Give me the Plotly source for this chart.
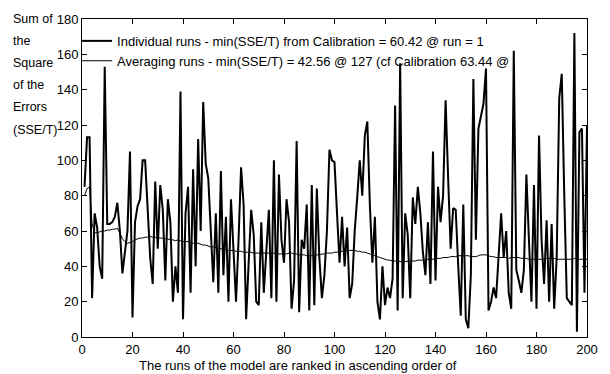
import plotly.graph_objects as go

runs = list(range(1, 201))

individual = [
    85, 113, 113, 22, 70, 62, 40, 33, 153, 64,
    64, 65, 68, 76, 60, 36, 48, 60, 105, 11,
    65, 74, 78, 100, 100, 75, 45, 30, 88, 50,
    86, 72, 32, 78, 65, 20, 40, 25, 139, 10,
    70, 85, 25, 95, 40, 112, 60, 133, 98, 90,
    60, 31, 70, 25, 94, 35, 68, 20, 78, 45,
    20, 55, 96, 75, 10, 42, 72, 58, 20, 18,
    65, 25, 52, 72, 22, 100, 20, 92, 55, 42,
    78, 65, 16, 32, 111, 14, 55, 50, 75, 15,
    86, 18, 84, 45, 22, 35, 60, 106, 100, 99,
    70, 42, 68, 40, 62, 22, 30, 60, 79, 100,
    80, 114, 122, 75, 42, 68, 20, 10, 40, 18,
    28, 22, 33, 131, 15, 155, 22, 70, 58, 22,
    79, 64, 85, 70, 48, 35, 65, 30, 105, 32,
    85, 65, 80, 134, 90, 50, 73, 72, 40, 12,
    75, 10, 5, 35, 146, 55, 118, 125, 132, 152,
    15, 20, 28, 22, 45, 70, 45, 60, 25, 16,
    162, 38, 32, 25, 38, 92, 55, 20, 86, 16,
    114, 55, 30, 66, 20, 64, 16, 45, 135, 149,
    80, 22, 20, 18, 172, 3, 116, 118, 25, 120,
]

averaging = [
    80, 84, 85, 64, 59, 59, 59.5, 60, 60, 60.5,
    60.5, 61, 61, 61.5, 59, 55.5, 54, 53, 53.5, 54,
    55, 55.5, 56, 56, 56.5, 56.5, 57, 56.5, 56.5, 56,
    56, 56, 55.5, 55.5, 55, 55, 54.5, 55, 54.5, 54,
    54, 54, 53.5, 53, 53.5, 53, 52.5, 52, 52, 51.5,
    51, 51, 50.5, 50, 50, 49.5, 49.5, 49, 49, 49,
    48.5, 48.5, 48.5, 48, 48, 48, 48, 47.5, 47.5, 47.5,
    47.5, 47.5, 47.5, 47.5, 47.5, 47.5, 47, 47, 47, 47,
    47, 47.5, 47.5, 47, 47, 46.5, 46.5, 46.5, 46, 46,
    46, 46, 46.5, 46.5, 47, 47, 47.5, 47.5, 47.5, 48,
    48, 48.5, 48.5, 48.5, 49, 49, 49, 49, 48.5, 48.5,
    48, 48, 47.5, 47, 46.5, 46, 45.5, 45, 44.5, 44,
    43.5, 43.5, 43, 43, 42.8, 42.7, 42.56, 42.7, 43, 43,
    43, 43, 43.5, 43.5, 43.5, 43.5, 44, 44, 44, 44.5,
    44.5, 44.5, 45, 45, 45, 45.5, 45.5, 45.5, 46, 46,
    46, 46, 46, 45.5, 45.5, 45.5, 46, 46.5, 46.5, 46.5,
    46, 45.5, 45.5, 45, 45, 45, 45, 45, 44.5, 45,
    45, 45, 45, 44.5, 44.5, 44.5, 44, 44, 44, 44,
    44, 44, 44, 44.5, 44.5, 44.5, 44.5, 44, 44, 44,
    44, 44, 44, 44, 44.5, 44, 44, 44, 44, 44,
]

legend_names = [
    "Individual runs - min(SSE/T) from Calibration = 60.42 @ run = 1",
    "Averaging runs - min(SSE/T) = 42.56 @ 127 (cf Calibration 63.44 @",
]
ylabel_lines = ["Sum of", "the", "Square", "of the", "Errors", "(SSE/T)"]
xlabel = "The runs of the model are ranked in ascending order of"
tick_vals_x = list(range(0, 201, 20))
tick_vals_y = list(range(0, 181, 20))

FONT = "Liberation Sans, Arial, Helvetica, sans-serif"
W, H = 610, 374
L, R, T, B = 82, 13, 15, 37
pw, ph = W - L - R, H - T - B

fig = go.Figure()
fig.add_trace(go.Scatter(x=runs, y=individual, mode="lines", name=legend_names[0],
                         line=dict(color="black", width=2)))
fig.add_trace(go.Scatter(x=runs, y=averaging, mode="lines", name=legend_names[1],
                         line=dict(color="black", width=1)))

def px_x(p):
    return (p - L) / pw

def px_y(q):
    return (H - B - q) / ph

ann = []
for k, t in enumerate(ylabel_lines):
    ann.append(dict(text=t, xref="paper", yref="paper", x=px_x(10), y=px_y(15 + 22.4 * k),
                    xanchor="left", yanchor="middle", showarrow=False,
                    font=dict(family=FONT, size=12.5, color="black")))
ann.append(dict(text=xlabel, xref="paper", yref="paper", x=px_x(302), y=px_y(366),
                xanchor="center", yanchor="middle", showarrow=False,
                font=dict(family=FONT, size=13, color="black")))

axis_common = dict(showgrid=False, zeroline=False, showline=True, linecolor="black",
                   linewidth=1, mirror="ticks", ticks="inside", ticklen=5,
                   tickcolor="black", tickwidth=1,
                   tickfont=dict(family=FONT, size=13, color="black"))

fig.update_layout(
    width=W, height=H,
    margin=dict(l=L, r=R, t=T, b=B, pad=0),
    paper_bgcolor="white", plot_bgcolor="white",
    font=dict(family=FONT, size=13, color="black"),
    xaxis=dict(range=[0, 200], tickvals=tick_vals_x, **axis_common),
    yaxis=dict(range=[0, 180], tickvals=tick_vals_y, **axis_common),
    showlegend=True,
    legend=dict(x=px_x(77), y=px_y(22), xanchor="left", yanchor="top",
                bgcolor="rgba(0,0,0,0)", borderwidth=0,
                font=dict(family=FONT, size=13, color="black"),
                tracegroupgap=0, itemwidth=30),
    annotations=ann,
)

fig.write_html("out.html")
